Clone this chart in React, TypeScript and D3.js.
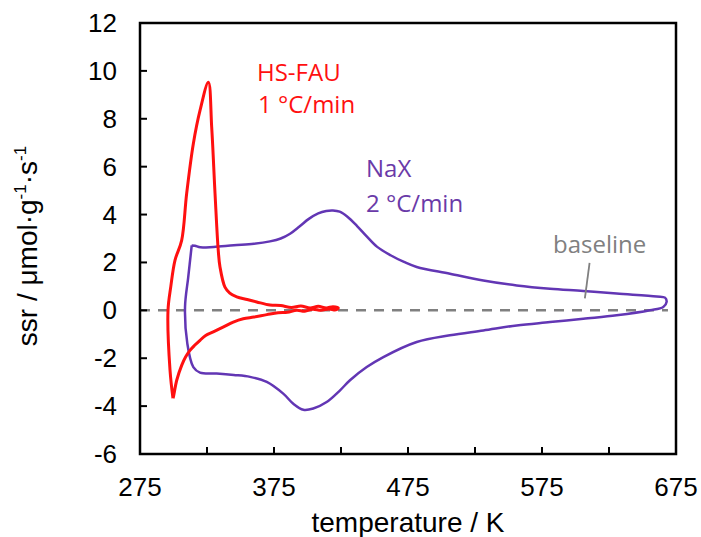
import React from "react";
import * as d3 from "d3";

// HS-FAU loop (1 °C/min): temperature (K) and ssr (µmol·g⁻¹·s⁻¹)
const hsFauT = [299.6, 297.4, 295.9, 298, 301.1, 306.1, 309.8, 314.8, 319.8, 326, 328.5, 331, 333.4, 334.7, 338.4, 342, 347.2, 355, 362.1, 372, 380, 388, 395, 402, 408, 414, 419, 423, 421, 416, 410, 404, 398, 392, 385, 378, 369.6, 360, 352, 344.6, 337, 329.7, 324, 319.8, 316, 312.3, 309, 306.1, 302.4, 299.9, 299.6];
const hsFauV = [-3.67, -2.5, 0, 1.0, 2.09, 2.92, 4.87, 6.96, 8.35, 9.53, 7.65, 4.87, 2.5, 1.81, 0.97, 0.72, 0.56, 0.45, 0.35, 0.22, 0.2, 0.12, 0.18, 0.1, 0.17, 0.1, 0.15, 0.1, 0.02, 0.06, 0.0, 0.05, -0.04, 0.0, -0.08, -0.1, -0.18, -0.28, -0.35, -0.49, -0.7, -0.9, -1.05, -1.25, -1.45, -1.67, -1.95, -2.3, -2.92, -3.62, -3.67];

// NaX loop (2 °C/min)
const naxT = [313.6, 311, 308.6, 310.3, 314.8, 319.8, 332.2, 345, 357.1, 369.6, 381.9, 389.4, 396.9, 404.3, 414.3, 424.3, 431.7, 444.2, 456.6, 481.5, 506.3, 531.2, 556.1, 581, 605.8, 630.7, 655.6, 665.5, 668, 666.8, 660.6, 630.7, 605.8, 581, 556.1, 531.2, 506.3, 481.5, 472, 462, 452, 444, 437, 430, 424, 419, 414, 408, 401, 394, 387, 380, 372, 360, 345, 330, 320, 316, 313.6];
const naxV = [2.71, 1.39, 0.14, -1.38, -2.37, -2.6, -2.64, -2.7, -2.78, -2.99, -3.48, -3.9, -4.15, -4.1, -3.83, -3.34, -2.92, -2.37, -1.95, -1.32, -1.04, -0.84, -0.63, -0.49, -0.35, -0.21, 0, 0.14, 0.35, 0.53, 0.58, 0.7, 0.81, 0.9, 1.04, 1.25, 1.53, 1.81, 2.02, 2.3, 2.65, 3.1, 3.52, 3.9, 4.12, 4.17, 4.15, 4.05, 3.82, 3.5, 3.2, 3.0, 2.88, 2.78, 2.72, 2.65, 2.63, 2.7, 2.71];

const xTicks = [275, 325, 375, 425, 475, 525, 575, 625, 675];
const xTickLabels = [275, 375, 475, 575, 675];
const yTicks = [-6, -4, -2, 0, 2, 4, 6, 8, 10, 12];

// "baseline" pointer, in data units: [T, ssr] start and end
const pointerT = [610.5, 607];
const pointerV = [1.98, 0.5];
const baselineEndT = 669;

const W = 701;
const H = 537;
const left = 140, right = 676, top = 23, bottom = 454;

export default function App() {
  const x = d3.scaleLinear().domain([275, 675]).range([left, right]);
  const y = d3.scaleLinear().domain([-6, 12]).range([bottom, top]);

  const line = d3
    .line<[number, number]>()
    .x((d) => x(d[0]))
    .y((d) => y(d[1]))
    .curve(d3.curveCatmullRom.alpha(0.5));

  const red = line(hsFauT.map((t, i) => [t, hsFauV[i]] as [number, number])) || "";
  const purple = line(naxT.map((t, i) => [t, naxV[i]] as [number, number])) || "";

  const axisFont = "'Liberation Sans', Arial, sans-serif";
  const noteFont = "'Open Sans', sans-serif";

  return (
    <svg
      width={W}
      height={H}
      viewBox={`0 0 ${W} ${H}`}
      style={{ position: "absolute", left: 0, top: 0, background: "#fff" }}
    >
      {/* zero baseline */}
      <line
        x1={x(275)}
        x2={x(baselineEndT)}
        y1={y(0)}
        y2={y(0)}
        stroke="#808080"
        strokeWidth={2.5}
        strokeDasharray="10 8"
      />

      {/* data loops */}
      <path d={purple} fill="none" stroke="#6236b4" strokeWidth={2.5} strokeLinejoin="round" />
      <path d={red} fill="none" stroke="#ff1010" strokeWidth={3} strokeLinejoin="round" />

      {/* frame */}
      <rect
        x={left}
        y={top}
        width={right - left}
        height={bottom - top}
        fill="none"
        stroke="#000"
        strokeWidth={2.5}
      />

      {/* ticks (inward) */}
      {xTicks.map((t) => (
        <line key={"xt" + t} x1={x(t)} x2={x(t)} y1={bottom} y2={bottom - 7} stroke="#000" strokeWidth={2} />
      ))}
      {yTicks.map((v) => (
        <line key={"yt" + v} x1={left} x2={left + 7} y1={y(v)} y2={y(v)} stroke="#000" strokeWidth={2} />
      ))}

      {/* tick labels */}
      {xTickLabels.map((t) => (
        <text key={"xl" + t} x={x(t)} y={496} textAnchor="middle" fontFamily={axisFont} fontSize={26} fill="#000">
          {t}
        </text>
      ))}
      {yTicks.map((v) => (
        <text key={"yl" + v} x={117} y={y(v) + 9} textAnchor="end" fontFamily={axisFont} fontSize={26} fill="#000">
          {v}
        </text>
      ))}

      {/* axis titles */}
      <text x={(left + right) / 2} y={532} textAnchor="middle" fontFamily={axisFont} fontSize={28} fill="#000">
        temperature / K
      </text>
      <text
        transform={`translate(37,246) rotate(-90)`}
        textAnchor="middle"
        fontFamily={axisFont}
        fontSize={28}
        fill="#000"
      >
        ssr / μmol·g
        <tspan fontSize={17} dy={-11}>-1</tspan>
        <tspan dy={11}>·s</tspan>
        <tspan fontSize={17} dy={-11}>-1</tspan>
      </text>

      {/* annotations */}
      <text x={257} y={81} fontFamily={noteFont} fontSize={24} fill="#ff1010">HS-FAU</text>
      <text x={258} y={113} fontFamily={noteFont} fontSize={24} fill="#ff1010">1 °C/min</text>
      <text x={366} y={177} fontFamily={noteFont} fontSize={24} fill="#6a3aa8">NaX</text>
      <text x={366} y={212} fontFamily={noteFont} fontSize={24} fill="#6a3aa8">2 °C/min</text>
      <text x={553} y={253} fontFamily={noteFont} fontSize={24} fill="#808080">baseline</text>
      <line
        x1={x(pointerT[0])}
        y1={y(pointerV[0])}
        x2={x(pointerT[1])}
        y2={y(pointerV[1])}
        stroke="#808080"
        strokeWidth={1.8}
      />
    </svg>
  );
}
